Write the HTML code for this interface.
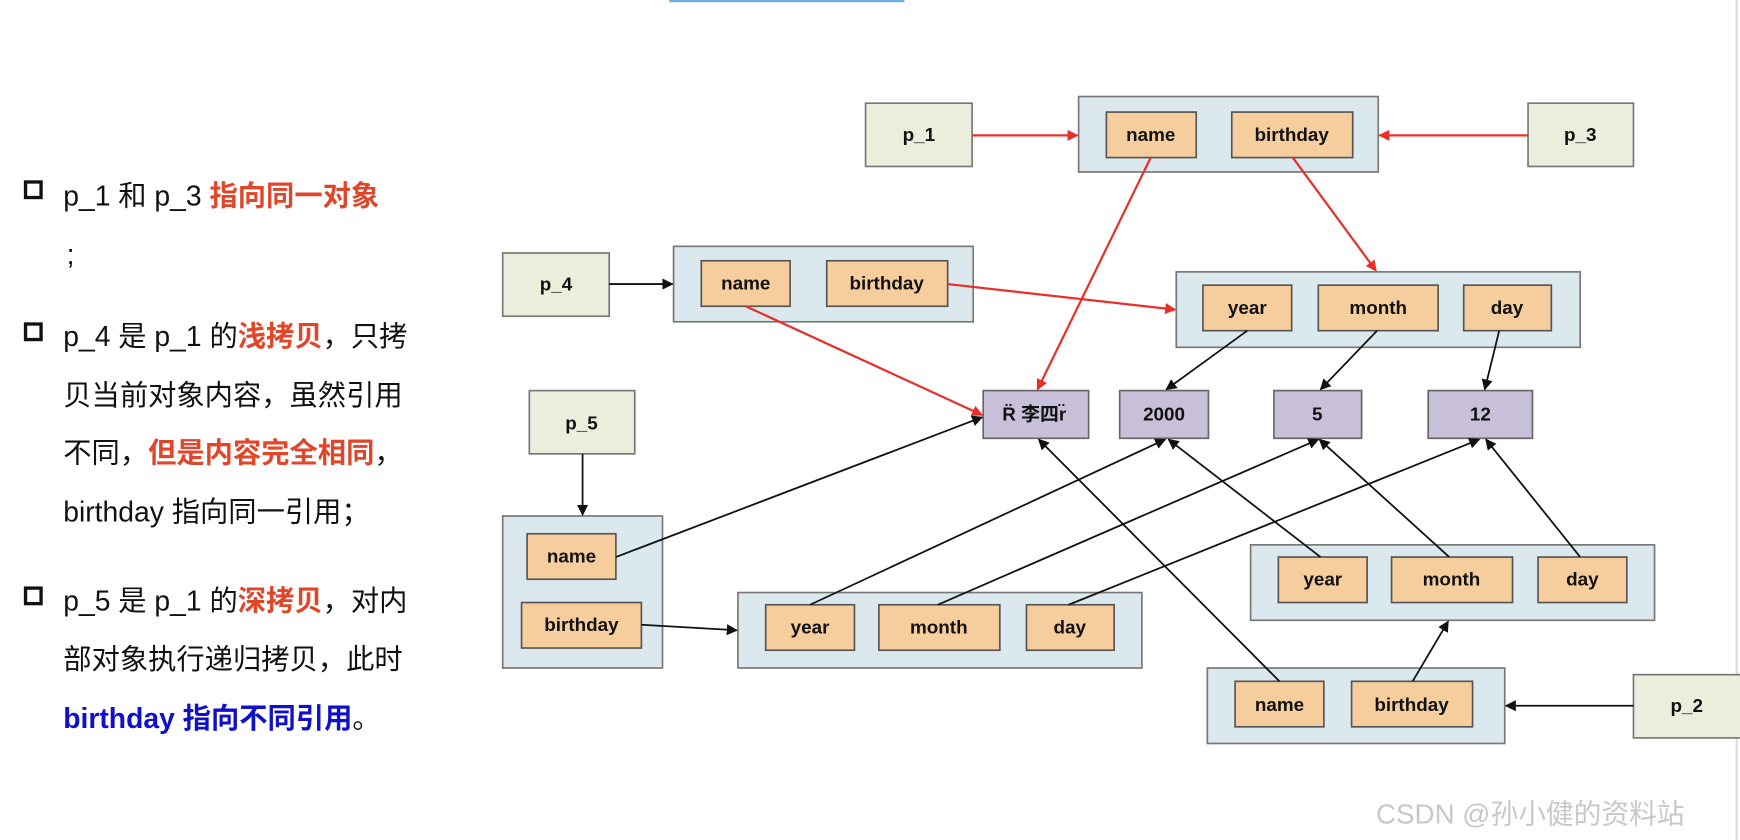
<!DOCTYPE html>
<html><head><meta charset="utf-8"><style>
html,body{margin:0;padding:0;background:#fff;width:1740px;height:840px;overflow:hidden}
svg{display:block}
.t{font-family:"Liberation Sans","Noto Sans CJK SC",sans-serif;font-size:25.5px;fill:#111}
.r{fill:#e0462a;font-weight:bold}
.b{fill:#1010c8;font-weight:bold}
.l{font-family:"Liberation Sans","Noto Sans CJK SC",sans-serif;font-size:17px;font-weight:bold;fill:#111;text-anchor:middle;dominant-baseline:central}
.p{fill:#eaeedc;stroke:#777;stroke-width:1.5}
.o{fill:#dbe9ee;stroke:#777;stroke-width:1.5}
.f{fill:#f6cd9c;stroke:#555;stroke-width:1.5}
.v{fill:#c8c0d8;stroke:#666;stroke-width:1.5}
.ar{stroke:#e8302b;stroke-width:2;fill:none}
.ak{stroke:#111;stroke-width:1.6;fill:none}
</style></head><body>
<svg width="1740" height="840" viewBox="0 0 1568 757" preserveAspectRatio="none">
<defs>
<marker id="mr" markerWidth="10" markerHeight="10" refX="9" refY="5" orient="auto" markerUnits="userSpaceOnUse"><path d="M0,0 L10,5 L0,10 z" fill="#e8302b"/></marker>
<marker id="mk" markerWidth="10" markerHeight="10" refX="9" refY="5" orient="auto" markerUnits="userSpaceOnUse"><path d="M0,0 L10,5 L0,10 z" fill="#111"/></marker>
</defs>
<rect x="603" y="0" width="212" height="2" fill="#6aaee0"/>
<line x1="1565" y1="0" x2="1565" y2="757" stroke="#ddd" stroke-width="2"/>

<!-- left text -->
<g>
<rect x="23" y="164" width="14" height="14" fill="none" stroke="#111" stroke-width="3"/>
<text class="t" x="57" y="185">p_1  和  p_3 <tspan class="r">指向同一对象</tspan></text>
<text class="t" x="60" y="238">;</text>
<rect x="23" y="292" width="14" height="14" fill="none" stroke="#111" stroke-width="3"/>
<text class="t" x="57" y="312">p_4 是 p_1 的<tspan class="r">浅拷贝</tspan>，只拷</text>
<text class="t" x="57" y="365">贝当前对象内容，虽然引用</text>
<text class="t" x="57" y="417">不同，<tspan class="r">但是内容完全相同</tspan>，</text>
<text class="t" x="57" y="470">birthday 指向同一引用；</text>
<rect x="23" y="530" width="14" height="14" fill="none" stroke="#111" stroke-width="3"/>
<text class="t" x="57" y="550">p_5 是 p_1 的<tspan class="r">深拷贝</tspan>，对内</text>
<text class="t" x="57" y="603">部对象执行递归拷贝，此时</text>
<text class="t" x="57" y="656"><tspan class="b">birthday 指向不同引用</tspan>。</text>
</g>

<!-- boxes -->
<rect class="p" x="780" y="93" width="96" height="57"/><text class="l" x="828" y="121">p_1</text>
<rect class="p" x="1377" y="93" width="95" height="57"/><text class="l" x="1424" y="121">p_3</text>
<rect class="o" x="972" y="87" width="270" height="68"/>
<rect class="f" x="997" y="101" width="81" height="41"/><text class="l" x="1037" y="121">name</text>
<rect class="f" x="1110" y="101" width="109" height="41"/><text class="l" x="1164" y="121">birthday</text>

<rect class="p" x="453" y="228" width="96" height="57"/><text class="l" x="501" y="256">p_4</text>
<rect class="o" x="607" y="222" width="270" height="68"/>
<rect class="f" x="632" y="235" width="80" height="41"/><text class="l" x="672" y="255">name</text>
<rect class="f" x="745" y="235" width="109" height="41"/><text class="l" x="799" y="255">birthday</text>

<rect class="o" x="1060" y="245" width="364" height="68"/>
<rect class="f" x="1084" y="257" width="80" height="41"/><text class="l" x="1124" y="277">year</text>
<rect class="f" x="1188" y="257" width="108" height="41"/><text class="l" x="1242" y="277">month</text>
<rect class="f" x="1319" y="257" width="79" height="41"/><text class="l" x="1358" y="277">day</text>

<rect class="v" x="886" y="352" width="95" height="43"/><text class="l" x="932" y="373">R̈ 李四r̈</text>
<rect class="v" x="1009" y="352" width="80" height="43"/><text class="l" x="1049" y="373">2000</text>
<rect class="v" x="1148" y="352" width="79" height="43"/><text class="l" x="1187" y="373">5</text>
<rect class="v" x="1287" y="352" width="94" height="43"/><text class="l" x="1334" y="373">12</text>

<rect class="p" x="477" y="352" width="95" height="57"/><text class="l" x="524" y="381">p_5</text>
<rect class="o" x="453" y="465" width="144" height="137"/>
<rect class="f" x="475" y="481" width="80" height="41"/><text class="l" x="515" y="501">name</text>
<rect class="f" x="470" y="543" width="108" height="41"/><text class="l" x="524" y="563">birthday</text>

<rect class="o" x="665" y="534" width="364" height="68"/>
<rect class="f" x="690" y="545" width="80" height="41"/><text class="l" x="730" y="565">year</text>
<rect class="f" x="792" y="545" width="109" height="41"/><text class="l" x="846" y="565">month</text>
<rect class="f" x="925" y="545" width="79" height="41"/><text class="l" x="964" y="565">day</text>

<rect class="o" x="1127" y="491" width="364" height="68"/>
<rect class="f" x="1152" y="502" width="80" height="41"/><text class="l" x="1192" y="522">year</text>
<rect class="f" x="1254" y="502" width="109" height="41"/><text class="l" x="1308" y="522">month</text>
<rect class="f" x="1386" y="502" width="80" height="41"/><text class="l" x="1426" y="522">day</text>

<rect class="o" x="1088" y="602" width="268" height="68"/>
<rect class="f" x="1113" y="614" width="80" height="41"/><text class="l" x="1153" y="635">name</text>
<rect class="f" x="1218" y="614" width="109" height="41"/><text class="l" x="1272" y="635">birthday</text>
<rect class="p" x="1472" y="608" width="100" height="57"/><text class="l" x="1520" y="636">p_2</text>

<!-- red arrows -->
<line class="ar" x1="876" y1="122" x2="971" y2="122" marker-end="url(#mr)"/>
<line class="ar" x1="1377" y1="122" x2="1243" y2="122" marker-end="url(#mr)"/>
<line class="ar" x1="1037" y1="142" x2="935" y2="351" marker-end="url(#mr)"/>
<line class="ar" x1="1165" y1="142" x2="1240" y2="244" marker-end="url(#mr)"/>
<line class="ar" x1="854" y1="256" x2="1059" y2="279" marker-end="url(#mr)"/>
<line class="ar" x1="672" y1="276" x2="885" y2="374" marker-end="url(#mr)"/>

<!-- black arrows -->
<line class="ak" x1="549" y1="256" x2="606" y2="256" marker-end="url(#mk)"/>
<line class="ak" x1="525" y1="409" x2="525" y2="464" marker-end="url(#mk)"/>
<line class="ak" x1="555" y1="502" x2="885" y2="376" marker-end="url(#mk)"/>
<line class="ak" x1="578" y1="563" x2="664" y2="568" marker-end="url(#mk)"/>
<line class="ak" x1="1124" y1="298" x2="1051" y2="351" marker-end="url(#mk)"/>
<line class="ak" x1="1241" y1="298" x2="1190" y2="351" marker-end="url(#mk)"/>
<line class="ak" x1="1351" y1="298" x2="1338" y2="351" marker-end="url(#mk)"/>
<line class="ak" x1="730" y1="545" x2="1050" y2="396" marker-end="url(#mk)"/>
<line class="ak" x1="845" y1="545" x2="1188" y2="396" marker-end="url(#mk)"/>
<line class="ak" x1="963" y1="545" x2="1333" y2="396" marker-end="url(#mk)"/>
<line class="ak" x1="1190" y1="502" x2="1053" y2="396" marker-end="url(#mk)"/>
<line class="ak" x1="1306" y1="502" x2="1189" y2="396" marker-end="url(#mk)"/>
<line class="ak" x1="1424" y1="502" x2="1339" y2="396" marker-end="url(#mk)"/>
<line class="ak" x1="1153" y1="614" x2="936" y2="396" marker-end="url(#mk)"/>
<line class="ak" x1="1273" y1="614" x2="1305" y2="560" marker-end="url(#mk)"/>
<line class="ak" x1="1472" y1="636" x2="1357" y2="636" marker-end="url(#mk)"/>

<text x="1240" y="742" style="font-family:'Liberation Sans','Noto Sans CJK SC',sans-serif;font-size:25px;fill:#c8c8c8">CSDN @孙小健的资料站</text>
</svg>
</body></html>
